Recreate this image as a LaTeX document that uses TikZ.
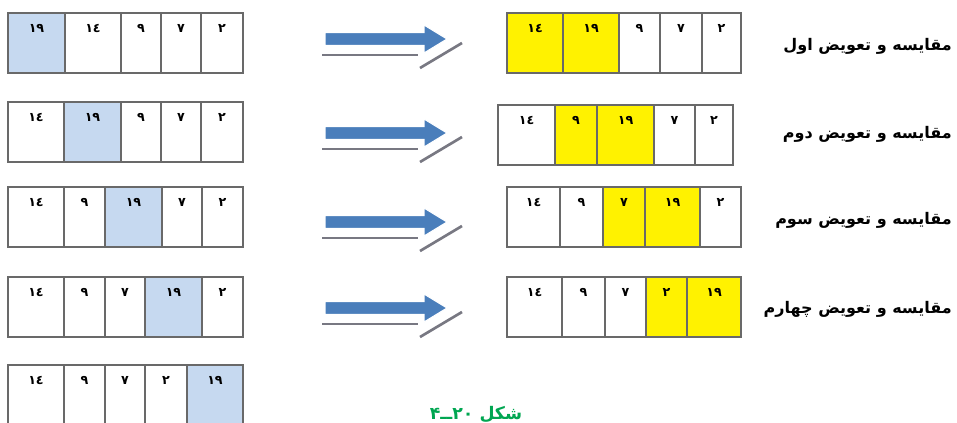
\documentclass[tikz,border=0pt]{standalone}
\usepackage{fontspec}
\newfontfamily\arabicfont[Script=Arabic]{DejaVu Sans}
\TeXXeTstate=1
\usetikzlibrary{positioning}
\definecolor{bluecell}{RGB}{198,217,240}
\definecolor{yellowcell}{RGB}{255,242,0}
\definecolor{cellgray}{RGB}{105,105,105}
\definecolor{arrowblue}{RGB}{74,126,187}
\definecolor{shadowgray}{RGB}{120,120,130}
\definecolor{capgreen}{RGB}{0,166,81}
\tikzset{
  cellbox/.style={draw=cellgray,line width=1.5pt},
  digit/.style={font=\arabicfont\bfseries\fontsize{9.5}{11}\selectfont,inner sep=0pt},
  steplabel/.style={anchor=east,font=\arabicfont\bfseries\fontsize{12}{14}\selectfont,inner sep=0pt},
  blockarrow/.style={fill=arrowblue,draw=white,line width=0.8pt},
  shadowline/.style={draw=shadowgray,line width=2pt}
}

\begin{document}
\begin{tikzpicture}[x=0.75pt,y=-0.75pt]
\useasboundingbox (0,0) rectangle (957,422);
% rows of cells: name/top/cells (left/right/number/fill)
\foreach \r/\top/\cells in {
  la/13/{8/65/۱۹/bluecell,65/121/۱٤/white,121/161/۹/white,161/201/۷/white,201/243/۲/white},
  lb/102/{8/64/۱٤/white,64/121/۱۹/bluecell,121/161/۹/white,161/201/۷/white,201/243/۲/white},
  lc/187/{8/64/۱٤/white,64/105/۹/white,105/162/۱۹/bluecell,162/202/۷/white,202/243/۲/white},
  ld/277/{8/64/۱٤/white,64/105/۹/white,105/145/۷/white,145/202/۱۹/bluecell,202/243/۲/white},
  le/365/{8/64/۱٤/white,64/105/۹/white,105/145/۷/white,145/187/۲/white,187/243/۱۹/bluecell},
  ra/13/{507/563/۱٤/yellowcell,563/619/۱۹/yellowcell,619/660/۹/white,660/702/۷/white,702/741/۲/white},
  rb/105/{498/555/۱٤/white,555/597/۹/yellowcell,597/654/۱۹/yellowcell,654/695/۷/white,695/733/۲/white},
  rc/187/{507/560/۱٤/white,560/603/۹/white,603/645/۷/yellowcell,645/700/۱۹/yellowcell,700/741/۲/white},
  rd/277/{507/562/۱٤/white,562/605/۹/white,605/646/۷/white,646/687/۲/yellowcell,687/741/۱۹/yellowcell}}
{
  \foreach \a/\b/\t/\c [count=\i] in \cells {
    \draw[cellbox,fill=\c] (\a,\top) rectangle (\b,\top+60);
    \node[digit] (\r\i) at ({(\a+\b)/2},\top+15) {\t};
  }
}
% arrows
\foreach \y in {39,133,222,308} {
  \draw[shadowline] (322,\y+16) -- (418,\y+16);
  \draw[shadowline] (420,\y+29) -- (462,\y+4);
  \draw[blockarrow] (325,\y-6.5) -- (424,\y-6.5) -- (424,\y-14) -- (447,\y)
    -- (424,\y+14) -- (424,\y+6.5) -- (325,\y+6.5) -- cycle;
}
% step labels
\foreach \y/\t [count=\i] in {46/مقایسه و تعویض اول,134/مقایسه و تعویض دوم,
  220/مقایسه و تعویض سوم,309/مقایسه و تعویض چهارم}
  \node[steplabel] (lab\i) at (952,\y) {\beginR\t\endR};
\node[font=\arabicfont\bfseries\fontsize{13}{15}\selectfont,text=capgreen,inner sep=0pt]
  (cap) at (476,414) {\beginR شکل \beginL\hbox{۴}\hbox{ــ}\hbox{۲۰}\endL\endR};
\end{tikzpicture}
\end{document}
